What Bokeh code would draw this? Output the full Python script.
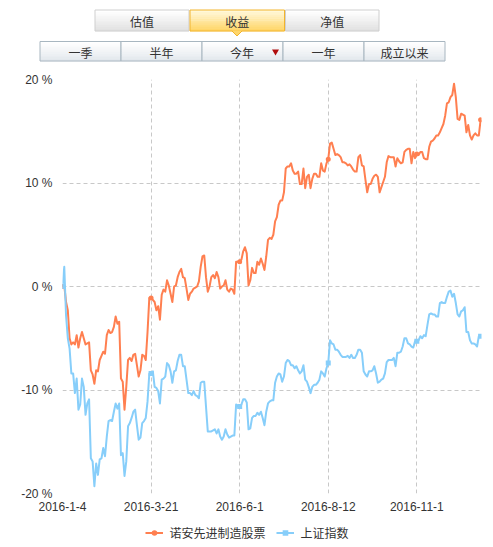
from bokeh.plotting import figure
from bokeh.models import Range1d, FixedTicker, Legend, LegendItem, ColumnDataSource
from bokeh.layouts import column
from bokeh.embed import file_html
from bokeh.resources import INLINE
from bokeh.core.properties import value

# ---------------- data ----------------
fund_name = "诺安先进制造股票"
index_name = "上证指数"
tick_days = [0, 50, 100, 150, 200]
tick_labels = ["2016-1-4", "2016-3-21", "2016-6-1", "2016-8-12", "2016-11-1"]
y_ticks = [-20, -10, 0, 10, 20]

fund = [
    0.0, 0.1, -1.5, -2.3, -5.0, -5.6, -5.4, -5.6, -4.7, -5.9,
    -5.0, -4.4, -5.0, -5.6, -5.5, -5.4, -8.1, -8.5, -9.4, -8.1,
    -8.2, -7.1, -6.7, -6.3, -6.5, -4.7, -4.2, -4.5, -4.4, -3.9,
    -2.9, -3.6, -3.4, -8.9, -9.2, -11.9, -9.7, -7.1, -6.9, -7.2,
    -6.6, -6.5, -7.6, -8.7, -8.1, -6.6, -6.7, -7.1, -4.4, -1.1,
    -1.1, -1.3, -1.5, -2.3, -1.9, -3.2, -0.8, -0.3, -0.5, 0.6,
    0.1, -0.7, -1.5, 0.0, 0.1, 0.9, 1.4, 1.7, 0.9, 0.8,
    -0.2, -1.3, -0.7, -0.5, -0.2, -0.1, 0.0, 0.5, 1.9, 2.9,
    3.0, 0.9, -0.5, 0.0, 0.9, 1.1, 0.8, 1.4, 0.9, -0.2,
    0.0, 0.1, 0.6, -0.3, -0.5, -0.2, -0.3, -0.7, 2.4, 2.4,
    2.4, 2.6, 3.4, 3.8, 3.2, 0.1, 0.6, 1.8, 1.3, 1.3,
    2.4, 2.1, 2.7, 2.2, 1.6, 2.9, 4.5, 4.7, 4.6, 5.0,
    6.3, 6.7, 7.9, 8.3, 8.3, 9.1, 11.4, 11.6, 11.6, 11.9,
    11.2, 10.9, 10.9, 11.1, 9.9, 9.9, 11.4, 9.5, 10.6, 10.8,
    9.5, 10.4, 10.9, 10.9, 10.6, 10.6, 11.9, 11.2, 11.1, 11.9,
    12.3, 13.8, 13.9, 13.3, 12.7, 12.8, 12.7, 12.5, 12.0, 12.0,
    11.9, 11.7, 11.8, 11.6, 11.3, 11.1, 11.1, 12.5, 12.7, 11.7,
    11.6, 10.3, 9.1, 9.9, 9.9, 10.4, 10.7, 10.8, 10.6, 9.1,
    9.6, 10.1, 10.6, 12.0, 12.6, 12.5, 12.5, 12.5, 11.6, 12.4,
    12.1, 11.9, 12.0, 13.0, 13.2, 13.3, 13.3, 11.9, 13.0, 12.4,
    12.8, 12.7, 13.0, 13.0, 12.4, 12.3, 12.3, 13.5, 14.0, 14.1,
    14.3, 14.6, 14.6, 14.9, 15.3, 15.7, 16.5, 17.7, 17.8, 18.3,
    18.5, 19.6, 18.3, 16.2, 16.1, 16.7, 16.6, 16.5, 14.9, 15.6,
    14.6, 14.2, 14.6, 14.8, 14.6, 14.6, 16.1,
]

index = [
    0.0, 1.9, -2.8, -5.0, -6.0, -8.4, -8.4, -10.3, -8.9, -11.9,
    -11.4, -8.9, -9.7, -12.4, -11.3, -10.9, -16.6, -16.9, -19.3, -17.1,
    -18.2, -16.7, -16.6, -15.6, -16.4, -14.5, -13.0, -12.9, -13.0, -12.1,
    -11.3, -11.8, -11.3, -16.3, -16.1, -18.3, -16.9, -13.5, -13.2, -12.7,
    -12.1, -11.9, -13.4, -14.8, -14.6, -13.2, -13.0, -12.7, -11.1, -8.4,
    -8.4, -8.2, -9.7, -9.8, -10.1, -11.3, -9.0, -8.9, -8.7, -7.4,
    -7.6, -8.2, -9.3, -8.2, -8.1, -7.2, -6.6, -6.6, -7.7, -7.7,
    -9.0, -10.3, -10.3, -10.5, -10.1, -10.5, -10.6, -10.8, -9.3, -9.2,
    -9.2, -11.6, -14.0, -14.0, -14.0, -13.9, -13.8, -14.2, -13.8, -14.5,
    -14.8, -14.5, -13.8, -14.3, -14.6, -14.5, -14.4, -14.4, -11.4, -11.6,
    -11.6, -11.4, -10.9, -10.9, -11.2, -13.8, -13.7, -12.7, -12.5, -12.5,
    -12.2, -12.4, -12.1, -12.7, -13.4, -12.1, -11.3, -11.1, -11.0, -11.0,
    -9.3, -8.7, -8.4, -8.5, -9.2, -8.7, -7.4, -7.1, -7.2, -7.6,
    -7.6, -7.9, -7.7, -8.1, -8.4, -8.2, -7.6, -9.0, -9.2, -9.7,
    -10.3, -9.7, -9.5, -9.5, -9.3, -9.0, -8.2, -8.4, -8.7, -7.9,
    -7.4, -5.2, -5.5, -5.6, -6.1, -6.1, -6.3, -6.6, -6.8, -6.8,
    -6.8, -6.7, -6.9, -6.6, -6.9, -6.9, -6.6, -6.1, -6.1, -6.4,
    -8.2, -8.5, -8.7, -8.2, -8.2, -8.1, -7.7, -8.4, -9.3, -9.2,
    -9.0, -8.9, -8.4, -7.3, -7.1, -7.1, -7.1, -6.9, -7.7, -6.4,
    -6.4, -6.3, -5.8, -5.0, -5.0, -5.5, -5.6, -5.8, -5.9, -5.3,
    -5.3, -5.2, -4.8, -5.0, -4.7, -4.8, -3.7, -2.7, -2.6, -2.7,
    -2.7, -2.9, -2.9, -1.6, -1.5, -1.6, -1.6, -1.0, -0.5, -0.4,
    -1.0, -0.7, -1.6, -2.7, -2.9, -2.4, -2.3, -2.0, -4.4, -4.4,
    -5.2, -5.5, -5.5, -5.6, -5.8, -4.8, -4.8,
]

tabs_top = ["估值", "收益", "净值"]
tabs_bottom = ["一季", "半年", "今年", "一年", "成立以来"]

ORANGE = "#ff7f50"
BLUE = "#87cefa"
TXT = "#333333"
CJK = "Noto Sans CJK SC"
LAT = "Liberation Sans"

W = 493

# ---------------- top tab bar (pixel coordinates) ----------------
top = figure(width=W, height=68, x_range=Range1d(0, W), y_range=Range1d(68, 0),
             toolbar_location=None, output_backend="svg", min_border=0,
             x_axis_location=None, y_axis_location=None)
top.frame_align = False
top.grid.visible = False
top.outline_line_color = None


def hexmix(c1, c2, t):
    a = [int(c1[i:i + 2], 16) for i in (1, 3, 5)]
    b = [int(c2[i:i + 2], 16) for i in (1, 3, 5)]
    return "#%02x%02x%02x" % tuple(round(a[k] + (b[k] - a[k]) * t) for k in range(3))


def gradient_box(x0, x1, y0, y1, ctop, cbot, border, n=10):
    lefts, rights, tops, bots, cols = [], [], [], [], []
    h = (y1 - y0) / n
    for i in range(n):
        lefts.append(x0)
        rights.append(x1)
        tops.append(y0 + i * h)
        bots.append(y0 + (i + 1) * h + 0.3)
        cols.append(hexmix(ctop, cbot, i / (n - 1)))
    top.quad(left=lefts, right=rights, top=tops, bottom=bots, fill_color=cols, line_color=None)
    top.quad(left=[x0], right=[x1], top=[y0], bottom=[y1], fill_color=None,
             line_color=border, line_width=1)


row1 = [(94.5, 188.5), (189.5, 284.0), (285.0, 378.5)]
for i, (a, b) in enumerate(row1):
    if i == 1:
        gradient_box(a, b, 9.5, 30.5, "#fff8d8", "#ffd66a", "#f2b42c")
    else:
        gradient_box(a, b, 9.5, 30.5, "#ffffff", "#e2e2e2", "#cfcfcf")
# pointer under selected tab
top.patch([231.5, 241.5, 236.5], [30.0, 30.0, 35.5], fill_color="#ffd66a", line_color=None)
top.line([231.5, 236.5, 241.5], [30.5, 35.5, 30.5], line_color="#f2b42c", line_width=1)
top.text(x=[(a + b) / 2 for a, b in row1], y=[20.5] * 3, text=tabs_top,
         text_font=value(CJK), text_font_size="12px", text_color=TXT,
         text_align="center", text_baseline="middle")

edges = [39.5, 120.5, 201.5, 282.5, 363.5, 444.5]
for i in range(5):
    gradient_box(edges[i], edges[i + 1], 41.0, 60.5, "#ffffff", "#e3e8ed", "#a8b6c0")
cx = [(edges[i] + edges[i + 1]) / 2 for i in range(5)]
cx[2] = 241.5
top.text(x=cx, y=[51.5] * 5, text=tabs_bottom,
         text_font=value(CJK), text_font_size="12px", text_color=TXT,
         text_align="center", text_baseline="middle")
top.scatter(x=[275.0], y=[51.0], marker="inverted_triangle", size=7,
            fill_color="#b00d0d", line_color=None)

# ---------------- main chart ----------------
days = list(range(len(fund)))
p = figure(width=W, height=449, x_range=Range1d(0, 236.5), y_range=Range1d(-20, 20),
           toolbar_location=None, output_backend="svg",
           min_border_left=62, min_border_right=12, min_border_top=11, min_border_bottom=24)
p.frame_align = False
p.outline_line_color = None

p.xaxis.ticker = FixedTicker(ticks=tick_days)
p.xaxis.major_label_overrides = {d: l for d, l in zip(tick_days, tick_labels)}
p.yaxis.ticker = FixedTicker(ticks=y_ticks)
p.yaxis.major_label_overrides = {v: f"{v} %" for v in y_ticks}
for ax in (p.xaxis, p.yaxis):
    ax.axis_line_color = None
    ax.major_tick_line_color = None
    ax.minor_tick_line_color = None
    ax.major_tick_in = 0
    ax.major_tick_out = 0
    ax.major_label_text_font = LAT
    ax.major_label_text_font_size = "12px"
    ax.major_label_text_color = TXT
p.yaxis.major_label_standoff = 10
p.xaxis.major_label_standoff = 8

p.xgrid.ticker = FixedTicker(ticks=tick_days)
p.ygrid.ticker = FixedTicker(ticks=y_ticks)
for g in (p.xgrid, p.ygrid):
    g.grid_line_color = "#c8c8c8"
    g.grid_line_dash = "4 3"
    g.grid_line_width = 1

src = ColumnDataSource(dict(day=days, fund=fund, index=index))
p.line("day", "fund", source=src, line_color=ORANGE, line_width=2, line_join="round")
p.line("day", "index", source=src, line_color=BLUE, line_width=2, line_join="round")

mark_days = tick_days + [days[-1]]
p.scatter(x=mark_days, y=[fund[d] for d in mark_days], marker="circle", size=5,
          fill_color=ORANGE, line_color=None)
p.scatter(x=mark_days, y=[index[d] for d in mark_days], marker="square", size=5,
          fill_color=BLUE, line_color=None)

# ---------------- legend strip ----------------
leg = figure(width=W, height=30, x_range=Range1d(0, 1), y_range=Range1d(0, 1),
             toolbar_location=None, output_backend="svg", min_border=0,
             x_axis_location=None, y_axis_location=None)
leg.frame_align = False
leg.grid.visible = False
leg.outline_line_color = None
off = dict(x=[-5, -4], y=[-5, -5])
lf1 = leg.line(line_color=ORANGE, line_width=2, **off)
lf2 = leg.scatter(marker="circle", size=8, fill_color=ORANGE, line_color=None, **off)
lb1 = leg.line(line_color=BLUE, line_width=2, **off)
lb2 = leg.scatter(marker="square", size=8, fill_color=BLUE, line_color=None, **off)
legend = Legend(items=[LegendItem(label=fund_name, renderers=[lf1, lf2]),
                       LegendItem(label=index_name, renderers=[lb1, lb2])],
                orientation="horizontal", location="center",
                label_text_font=CJK, label_text_font_size="12px", label_text_color=TXT,
                glyph_width=18, glyph_height=14, label_standoff=7, spacing=10,
                padding=2, margin=0, border_line_color=None, background_fill_alpha=0)
leg.add_layout(legend)

layout = column(top, p, leg, spacing=0)
open("out.html", "w").write(file_html(layout, INLINE))
